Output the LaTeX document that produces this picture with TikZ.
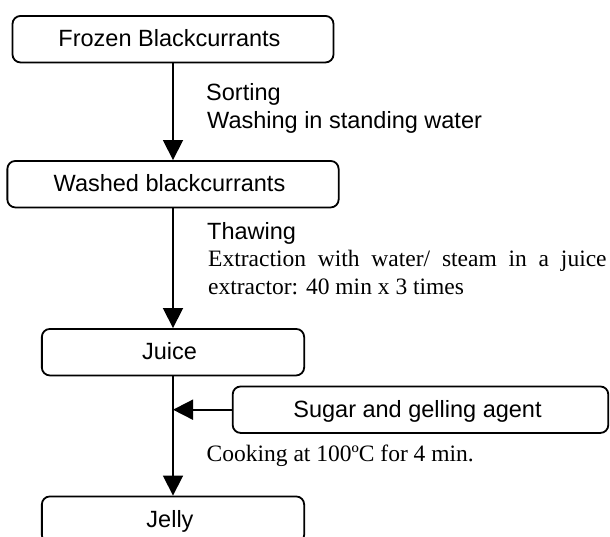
\documentclass[tikz,border=0pt]{standalone}
\usepackage{fontspec}
\setmainfont{Liberation Serif}
\setsansfont{Liberation Sans}
\usetikzlibrary{arrows.meta}
\begin{document}
\begin{tikzpicture}[x=1pt,y=-1pt,
  box/.style={draw, line width=1.8pt, rounded corners=8pt, inner sep=0pt,
    minimum height=46.5pt, text height=17pt, text depth=2pt,
    font=\sffamily\fontsize{23.5}{28}\selectfont},
  arr/.style={line width=1.8pt, -{Triangle[length=20pt,width=20pt]}},
  lab/.style={anchor=base west, inner sep=0pt, font=\sffamily\fontsize{23.5}{28}\selectfont},
  tlab/.style={anchor=base west, inner sep=0pt, font=\rmfamily\fontsize{23.5}{28}\selectfont}]
\useasboundingbox (0,0) rectangle (610,537);
\clip (0,0) rectangle (610,537);

\node[box, minimum width=321pt] (f) at (173,39.2) {\kern-7pt Frozen Blackcurrants};
\node[box, minimum width=331.3pt] (w) at (173,184.2) {\kern-7pt Washed blackcurrants};
\node[box, minimum width=262.3pt] (j) at (173,352.2) {\kern-7pt Juice};
\node[box, minimum width=375.6pt] (s) at (420.5,409.7) {\kern-6pt Sugar and gelling agent};
\node[box, minimum width=262.3pt] (y) at (173,519.7) {\kern-6pt Jelly};

\draw[arr] (f.south) -- (w.north);
\draw[arr] (w.south) -- (j.north);
\draw[arr] (j.south) -- (y.north);
\draw[arr] (s.west) -- (s.west -| j.south);

\node[lab] (t1) at (206,100.7) {Sorting};
\node[lab] (t2) at (207,128.3) {Washing in standing water};
\node[lab] (t3) at (207,240) {Thawing};
\node[tlab] (t4) at (208,266.7) {\makebox[398.4pt][s]{Extraction with water/ steam in a juice}};
\node[tlab] (t5) at (208,294.5) {extractor: 40 min x 3 times};
\node[tlab] (t6) at (206.5,461.7) {Cooking at 100ºC for 4 min.};
\end{tikzpicture}
\end{document}
